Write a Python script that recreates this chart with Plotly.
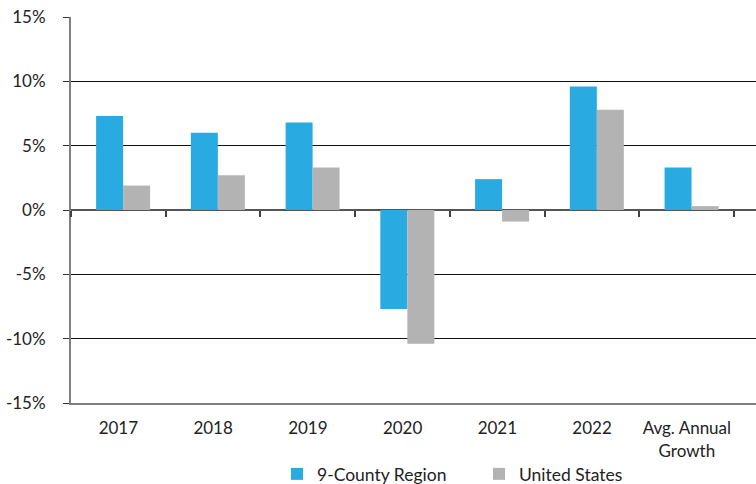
import plotly.graph_objects as go

categories = ["2017", "2018", "2019", "2020", "2021", "2022", "Avg. Annual<br>Growth"]
region_values = [7.3, 6.0, 6.8, -7.7, 2.4, 9.6, 3.3]
us_values = [1.9, 2.7, 3.3, -10.4, -0.9, 7.8, 0.3]
series_names = ["9-County Region", "United States"]
y_ticks = [-15, -10, -5, 0, 5, 10, 15]
y_tick_labels = ["-15%", "-10%", "-5%", "0%", "5%", "10%", "15%"]

BLUE = "#29ABE2"
GRAY = "#B3B3B3"
FONT = "Lato"
TXT = "#222222"
BW = 0.285
SHIFT = 0.05

fig = go.Figure()
fig.add_trace(go.Bar(x=categories, y=region_values, name=series_names[0],
                     marker=dict(color=BLUE, line=dict(width=0)),
                     width=BW, offset=-BW + SHIFT, legend="legend"))
fig.add_trace(go.Bar(x=categories, y=us_values, name=series_names[1],
                     marker=dict(color=GRAY, line=dict(width=0)),
                     width=BW, offset=SHIFT, legend="legend2"))
# invisible trace carrying the zero-line tick axis
fig.add_trace(go.Scatter(x=categories, y=[None] * len(categories), xaxis="x2",
                         showlegend=False, hoverinfo="skip", mode="lines"))

xrange = [-0.5, 6.73]
leg_common = dict(orientation="h", xref="container", yref="container",
                  xanchor="left", yanchor="middle", y=0.0207,
                  font=dict(family=FONT, size=17.5, color=TXT),
                  bgcolor="rgba(0,0,0,0)", borderwidth=0)
fig.update_layout(
    width=756, height=484,
    margin=dict(l=71, r=0, t=17, b=81),
    paper_bgcolor="white", plot_bgcolor="white",
    font=dict(family=FONT, size=17, color=TXT),
    barmode="overlay",
    showlegend=True,
    legend=dict(x=277 / 756, **leg_common),
    legend2=dict(x=479 / 756, **leg_common),
    xaxis=dict(type="category", categoryorder="array", categoryarray=categories,
               range=xrange, showgrid=False, zeroline=False, automargin=False,
               showline=True, linecolor="#7f7f7f", linewidth=2,
               ticks="", tickfont=dict(family=FONT, size=17, color=TXT),
               ticklabelstandoff=9),
    xaxis2=dict(type="category", categoryorder="array", categoryarray=categories,
                range=xrange, overlaying="x", anchor="free", position=0.5,
                showgrid=False, zeroline=False, showline=False, automargin=False,
                showticklabels=False, ticks="outside", ticklen=6, tickwidth=1.5,
                tickcolor="#404040", tickson="boundaries"),
    yaxis=dict(range=[-15, 15], tickvals=y_ticks, ticktext=y_tick_labels,
               showgrid=True, gridcolor="#111111", gridwidth=1, automargin=False,
               zeroline=True, zerolinecolor="#555555", zerolinewidth=2,
               showline=True, linecolor="#7f7f7f", linewidth=2,
               ticks="outside", ticklen=6, tickcolor="#333333", tickwidth=1,
               tickfont=dict(family=FONT, size=17, color=TXT),
               ticklabelstandoff=14),
)

fig.write_html("out.html", config={"displayModeBar": False},
               post_script="document.body.style.margin='0';document.body.style.overflow='hidden';")
